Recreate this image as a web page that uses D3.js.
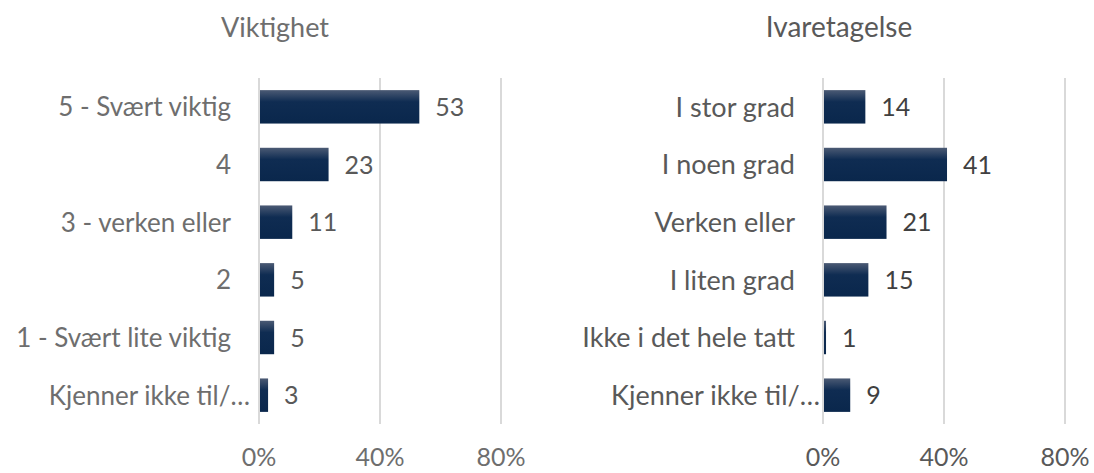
<!DOCTYPE html>
<html>
<head>
<meta charset="utf-8">
<script src="https://cdn.jsdelivr.net/npm/d3@7"></script>
<style>
  body { margin: 0; background: #fff; }
  svg { display: block; font-family: Lato, "Open Sans", sans-serif; }
</style>
</head>
<body>
<div id="chart"></div>
<script>
// data
var importanceCats = ["5 - Svært viktig", "4", "3 - verken eller", "2", "1 - Svært lite viktig", "Kjenner ikke til/…"];
var importanceVals = [53, 23, 11, 5, 5, 3];
var careCats = ["I stor grad", "I noen grad", "Verken eller", "I liten grad", "Ikke i det hele tatt", "Kjenner ikke til/…"];
var careVals = [14, 41, 21, 15, 1, 9];
var xTicks = [0, 40, 80];

var width = 1094, height = 473;

var svg = d3.select("#chart").append("svg")
    .attr("width", width)
    .attr("height", height);

// bar gradient, lighter at the top edge
var grad = svg.append("defs").append("linearGradient")
    .attr("id", "barGrad")
    .attr("x1", 0).attr("y1", 0).attr("x2", 0).attr("y2", 1);
grad.append("stop").attr("offset", "0%").attr("stop-color", "#4b5a74");
grad.append("stop").attr("offset", "35%").attr("stop-color", "#0f2c52");
grad.append("stop").attr("offset", "100%").attr("stop-color", "#0a274c");

function panel(opts) {
    var cats = opts.cats, vals = opts.vals;
    var x = d3.scaleLinear()
        .domain([0, 80])
        .range([opts.x0, opts.x0 + 242]);
    var y = d3.scaleBand()
        .domain(cats)
        .range([78, 424])
        .paddingInner(0.42)
        .paddingOuter(0.21);

    var g = svg.append("g");

    g.append("text")
        .attr("x", opts.titleX)
        .attr("y", 37)
        .attr("text-anchor", "middle")
        .style("font-size", opts.titleSize + "px")
        .style("fill", opts.labelColor)
        .text(opts.title);

    // gridlines
    g.selectAll(".grid")
        .data(xTicks)
        .enter()
        .append("line")
        .attr("x1", d => x(d))
        .attr("x2", d => x(d))
        .attr("y1", 78)
        .attr("y2", 424)
        .attr("stroke", "#d9d9d9")
        .attr("stroke-width", 2);

    // tick labels
    g.selectAll(".tick")
        .data(xTicks)
        .enter()
        .append("text")
        .attr("x", d => x(d))
        .attr("y", 466)
        .attr("text-anchor", "middle")
        .style("font-size", "25px")
        .style("fill", opts.labelColor)
        .text(d => d + "%");

    // category labels (truncated ones run closer to the axis)
    g.selectAll(".cat")
        .data(cats)
        .enter()
        .append("text")
        .attr("x", d => x(0) - (d.endsWith("…") ? opts.ellipsisGap : 28))
        .attr("y", d => y(d) + y.bandwidth() / 2)
        .attr("dy", "0.36em")
        .attr("text-anchor", "end")
        .style("font-size", opts.catSize + "px")
        .style("fill", opts.labelColor)
        .text(d => d);

    // bars
    g.selectAll(".bar")
        .data(vals)
        .enter()
        .append("rect")
        .attr("x", x(0) + 1)
        .attr("y", (d, i) => y(cats[i]))
        .attr("width", d => x(d) - x(0) - 1)
        .attr("height", y.bandwidth())
        .attr("fill", "url(#barGrad)");

    // value labels
    g.selectAll(".val")
        .data(vals)
        .enter()
        .append("text")
        .attr("x", d => x(d) + 16)
        .attr("y", (d, i) => y(cats[i]) + y.bandwidth() / 2)
        .attr("dy", "0.36em")
        .style("font-size", "25px")
        .style("fill", opts.valueColor)
        .text(d => d);
}

panel({
    title: "Viktighet", cats: importanceCats, vals: importanceVals,
    x0: 259, titleX: 275, titleSize: 27, catSize: 26, ellipsisGap: 9,
    labelColor: "#6e6e6e", valueColor: "#595959"
});
panel({
    title: "Ivaretagelse", cats: careCats, vals: careVals,
    x0: 823, titleX: 839, titleSize: 28, catSize: 27, ellipsisGap: 3,
    labelColor: "#595959", valueColor: "#404040"
});
</script>
</body>
</html>
